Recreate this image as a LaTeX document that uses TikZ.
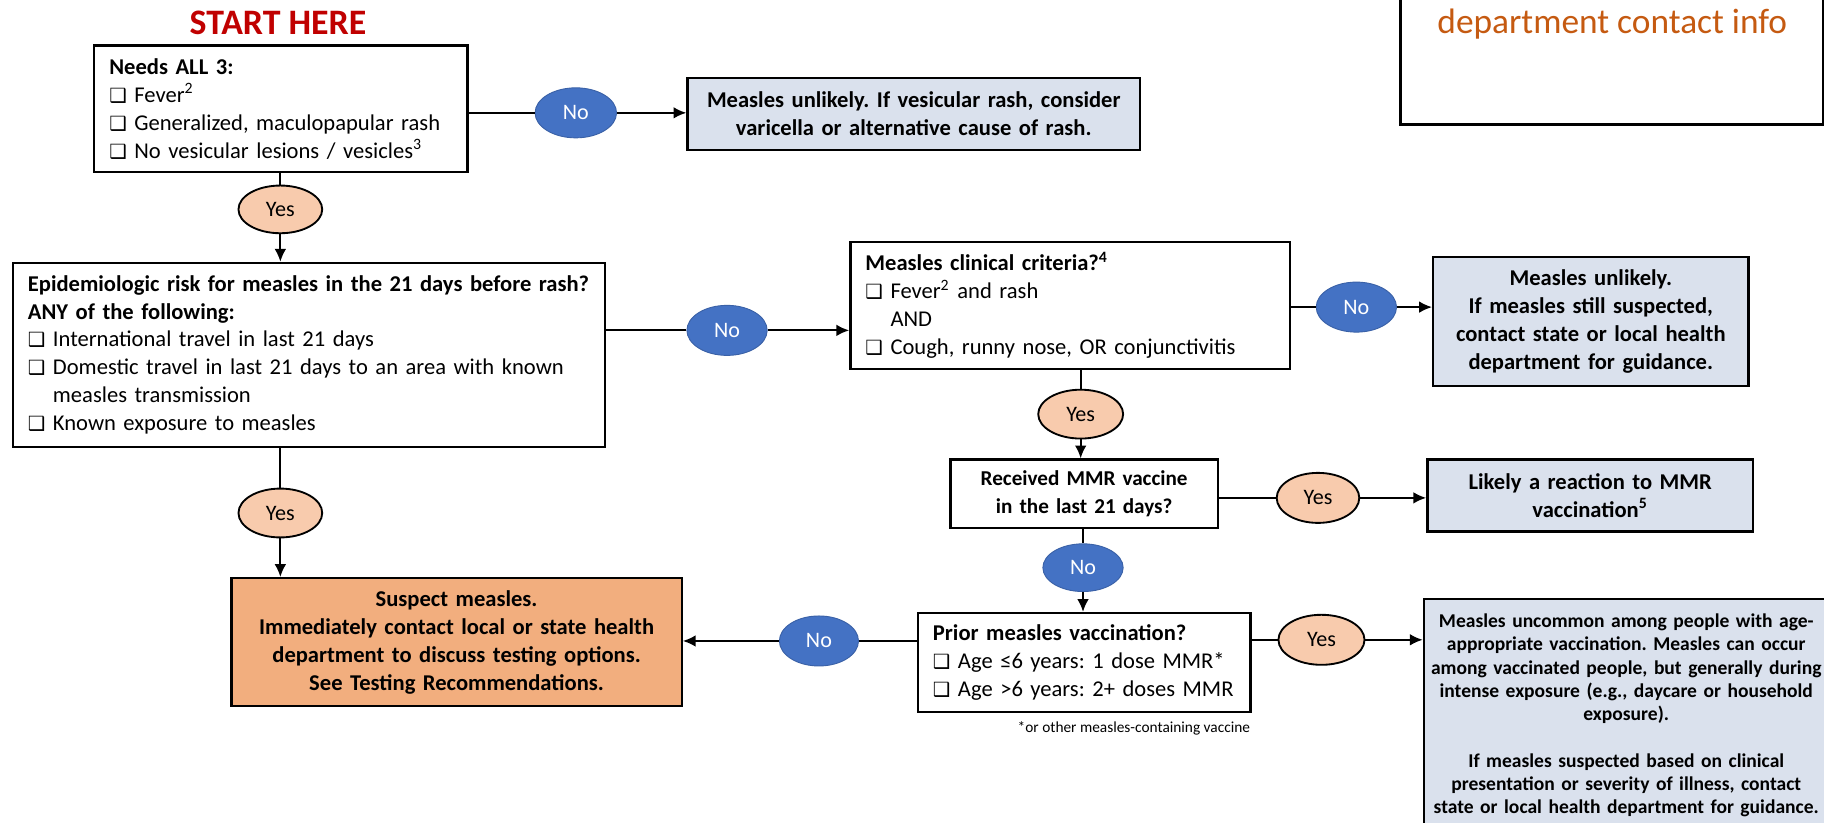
\documentclass[tikz,border=0pt]{standalone}
\usepackage{fontspec}
\setmainfont{Carlito}
\newfontfamily\symf{DejaVu Sans}
\usetikzlibrary{shapes.geometric,arrows.meta,calc}
\definecolor{startred}{HTML}{C00000}
\definecolor{peach}{HTML}{F8CBAD}
\definecolor{nob}{HTML}{4472C4}
\definecolor{lb}{HTML}{DAE1ED}
\definecolor{orfill}{HTML}{F2AE7E}
\definecolor{ortext}{HTML}{C55A11}
\newcommand{\cbx}{{\symf\fontsize{8.4}{9}\selectfont ❑}\ }
\newcommand{\cbi}{\hphantom{\cbx}}
\frenchspacing
\tikzset{
  box/.style={draw=black, line width=1pt, inner ysep=0pt, font=\fontsize{9.7}{12}\selectfont},
  bluebox/.style={box, fill=lb, align=center, font=\fontsize{9.7}{12}\selectfont\bfseries},
  yesov/.style={ellipse, draw=black, line width=0.8pt, fill=peach, inner sep=0pt, font=\fontsize{9.5}{10}\selectfont},
  noov/.style={ellipse, fill=nob, draw=nob!85!black, line width=0.4pt, inner sep=0pt, text=white, font=\fontsize{9.5}{10}\selectfont},
  ln/.style={line width=0.8pt},
  arr/.style={line width=0.8pt, -{Latex[length=5.5pt,width=5pt]}}
}
\begin{document}
\begin{tikzpicture}[x=0.5pt,y=-0.5pt]
\useasboundingbox (0,0) rectangle (1568,707);
\clip (0,0) rectangle (1568,707);

% titles
\node[font=\fontsize{15.4}{17}\selectfont\bfseries, text=startred] (start) at (239,20) {START HERE};
\node[draw=black, line width=1pt, minimum width=181.5pt, minimum height=70pt] (tr) at (1385.5,37) {};
\node[text=ortext, font=\fontsize{15.2}{18}\selectfont] (trt) at (1386,21) {department contact info};

% boxes
\node[box, minimum width=160.5pt, minimum height=54.5pt, inner xsep=6.5pt, text width=147.5pt, align=left] (b1) at (241.5,93.5)
  {\textbf{Needs ALL 3:}\\ \cbx Fever\textsuperscript{2}\\ \mbox{\cbx Generalized, maculopapular rash}\\ \mbox{\cbx No vesicular lesions / vesicles\textsuperscript{3}}};

\node[bluebox, minimum width=194.5pt, minimum height=31pt, text width=188.5pt, inner xsep=3pt] (u1) at (785.5,98)
  {Measles unlikely. If vesicular rash, consider\\ varicella or alternative cause of rash.};

\node[box, minimum width=254.5pt, minimum height=79pt, inner xsep=6.5pt, text width=241.5pt, align=left] (b2) at (265.5,305)
  {\mbox{\textbf{Epidemiologic risk for measles in the 21 days before rash?}}\\ \textbf{ANY of the following:}\\ \cbx International travel in last 21 days\\ \mbox{\cbx Domestic travel in last 21 days to an area with known}\\ \cbi measles transmission\\ \cbx Known exposure to measles};

\node[box, minimum width=189pt, minimum height=54.5pt, inner xsep=6.5pt, text width=176pt, align=left] (b3) at (920,262.5)
  {\textbf{Measles clinical criteria?\textsuperscript{4}}\\ \cbx Fever\textsuperscript{2} and rash\\ \cbi AND\\ \mbox{\cbx Cough, runny nose, OR conjunctivitis}};

\node[bluebox, minimum width=135.5pt, minimum height=55.5pt, text width=131.5pt, inner xsep=2pt] (b4) at (1367.5,276.5)
  {Measles unlikely.\\ If measles still suspected,\\ contact state or local health\\ department for guidance.};

\node[box, minimum width=115pt, minimum height=29.5pt, text width=111pt, inner xsep=2pt, align=center, font=\fontsize{9.1}{12}\selectfont\bfseries] (b5) at (932,424.5)
  {Received MMR vaccine\\ in the last 21 days?};

\node[bluebox, minimum width=140pt, minimum height=31pt, text width=136pt, inner xsep=2pt] (b6) at (1367,426)
  {Likely a reaction to MMR\\ vaccination\textsuperscript{5}};

\node[box, minimum width=143pt, minimum height=42.5pt, inner xsep=6.5pt, text width=130pt, align=left] (b7) at (932,569.5)
  {\textbf{Prior measles vaccination?}\\ \mbox{\cbx Age ≤6 years: 1 dose MMR*}\\ \mbox{\cbx Age >6 years: 2+ doses MMR}};

\node[font=\fontsize{6.6}{8}\selectfont, anchor=east, inner sep=0pt] (fn) at (1075,626) {*or other measles-containing vaccine};

\node[box, fill=lb, minimum width=174pt, minimum height=100pt, text width=170pt, inner xsep=2pt, align=center, font=\fontsize{8.4}{10}\selectfont\bfseries] (b8) at (1398,615)
  {Measles uncommon among people with age-\\ appropriate vaccination. Measles can occur\\ among vaccinated people, but generally during\\ intense exposure (e.g., daycare or household\\ exposure).\\[10pt] If measles suspected based on clinical\\ presentation or severity of illness, contact\\ state or local health department for guidance.};

\node[box, fill=orfill, minimum width=193.5pt, minimum height=55pt, text width=189.5pt, inner xsep=2pt, align=center, font=\fontsize{9.7}{12}\selectfont\bfseries] (b9) at (392.5,552)
  {Suspect measles.\\ Immediately contact local or state health\\ department to discuss testing options.\\ See Testing Recommendations.};

% ovals
\node[noov, minimum width=35pt, minimum height=21.5pt] (n1) at (495,97) {No};
\node[yesov, minimum width=36pt, minimum height=20.5pt] (y1) at (241,180) {Yes};
\node[noov, minimum width=34.5pt, minimum height=21.5pt] (n2) at (625,284) {No};
\node[noov, minimum width=34.5pt, minimum height=21.5pt] (n3) at (1166,264) {No};
\node[yesov, minimum width=36.5pt, minimum height=21pt] (y3) at (929,356) {Yes};
\node[yesov, minimum width=35.5pt, minimum height=21.5pt] (y4) at (1133,428) {Yes};
\node[noov, minimum width=34.5pt, minimum height=20.5pt] (n5) at (931,488) {No};
\node[yesov, minimum width=37pt, minimum height=21.5pt] (y6) at (1136,550) {Yes};
\node[noov, minimum width=34pt, minimum height=21.5pt] (n7) at (704,551) {No};
\node[yesov, minimum width=36pt, minimum height=21pt] (y2) at (241,441) {Yes};

% connectors
\draw[ln] (b1.east |- n1) -- (n1);
\draw[arr] (n1) -- (n1 -| u1.west);
\draw[ln] (b1.south -| y1) -- (y1);
\draw[arr] (y1) -- (y1 |- b2.north);
\draw[ln] (b2.east |- n2) -- (n2);
\draw[arr] (n2) -- (n2 -| b3.west);
\draw[ln] (b3.east |- n3) -- (n3);
\draw[arr] (n3) -- (n3 -| b4.west);
\draw[ln] (b3.south -| y3) -- (y3);
\draw[arr] (y3) -- (y3 |- b5.north);
\draw[ln] (b5.east |- y4) -- (y4);
\draw[arr] (y4) -- (y4 -| b6.west);
\draw[ln] (b5.south -| n5) -- (n5);
\draw[arr] (n5) -- (n5 |- b7.north);
\draw[ln] (b7.east |- y6) -- (y6);
\draw[arr] (y6) -- (y6 -| b8.west);
\draw[ln] (b7.west |- n7) -- (n7);
\draw[arr] (n7) -- (n7 -| b9.east);
\draw[ln] (b2.south -| y2) -- (y2);
\draw[arr] (y2) -- (y2 |- b9.north);
\end{tikzpicture}
\end{document}
